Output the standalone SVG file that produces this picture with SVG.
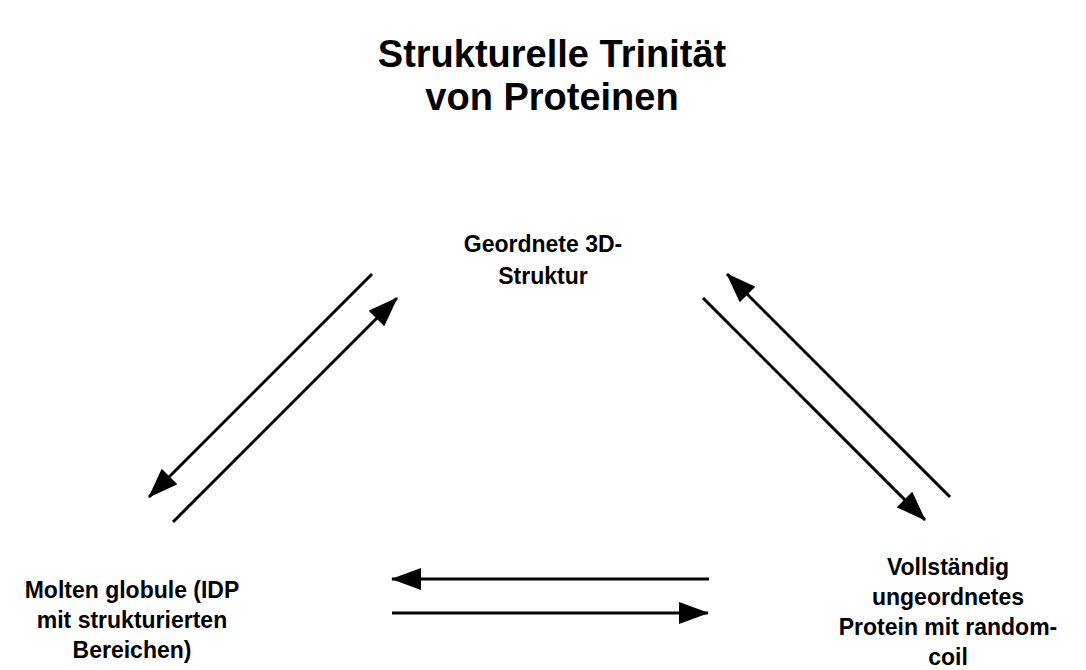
<svg xmlns="http://www.w3.org/2000/svg" width="1086" height="670" viewBox="0 0 1086 670">
<defs>
<style>
text{font-family:"Liberation Sans",Arial,sans-serif;font-weight:bold;fill:#000;text-anchor:middle}
.title{font-size:38px}
.lbl{font-size:23px}
.conn line{stroke:#000;stroke-width:3;fill:none;marker-end:url(#arr)}
</style>
<marker id="arr" markerUnits="userSpaceOnUse" markerWidth="30" markerHeight="22" refX="29" refY="11" orient="auto" viewBox="0 0 30 22">
<path d="M0,0 L30,11 L0,22 Z" fill="#000"/>
</marker>
</defs>
<rect width="1086" height="670" fill="#fff"/>
<g id="title">
<text class="title" x="552" y="67">Strukturelle Trinität</text>
<text class="title" x="552" y="110">von Proteinen</text>
</g>
<g id="node-ordered">
<text class="lbl" x="543" y="252">Geordnete 3D-</text>
<text class="lbl" x="543" y="284">Struktur</text>
</g>
<g id="node-molten">
<text class="lbl" x="132" y="598">Molten globule (IDP</text>
<text class="lbl" x="132" y="628">mit strukturierten</text>
<text class="lbl" x="132" y="658">Bereichen)</text>
</g>
<g id="node-disordered">
<text class="lbl" x="948" y="575">Vollständig</text>
<text class="lbl" x="948" y="605">ungeordnetes</text>
<text class="lbl" x="948" y="635">Protein mit random-</text>
<text class="lbl" x="948" y="665">coil</text>
</g>
<g id="connectors" class="conn">
<line x1="372" y1="274" x2="149" y2="497"/>
<line x1="173" y1="522" x2="397" y2="298"/>
<line x1="703" y1="298" x2="925" y2="520"/>
<line x1="950" y1="497" x2="727" y2="274"/>
<line x1="709" y1="579" x2="392" y2="579"/>
<line x1="392" y1="613" x2="708" y2="613"/>
</g>
</svg>
